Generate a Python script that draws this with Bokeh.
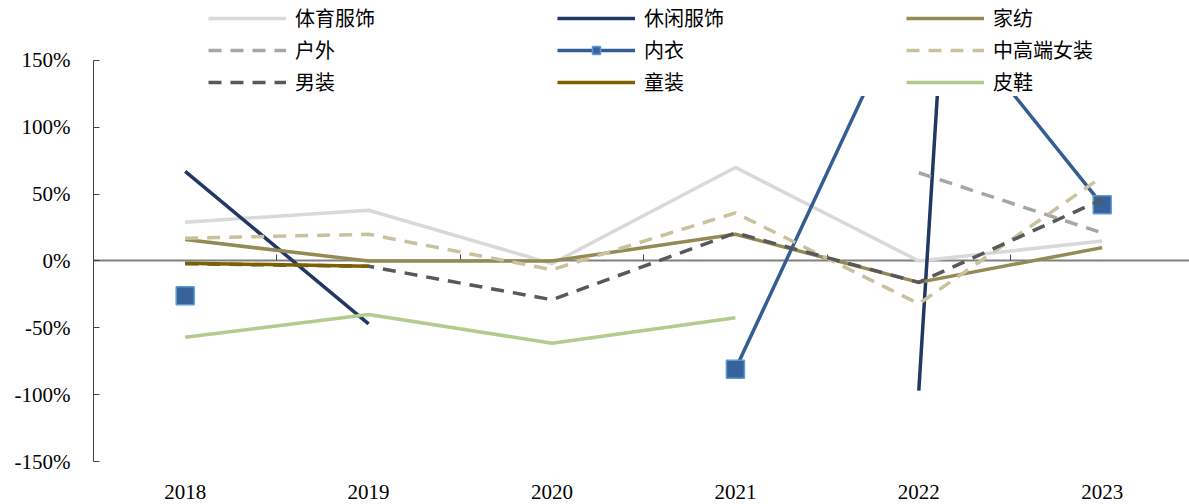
import math
from bokeh.plotting import figure
from bokeh.models import (Range1d, LinearAxis, FixedTicker, NumeralTickFormatter,
                          CustomJSTickFormatter, Legend, LegendItem, ColumnDataSource)
from bokeh.embed import file_html
from bokeh.resources import INLINE

nan = float("nan")

# Year-over-year growth by apparel segment (fractions; NaN = no data)
years = ["2018", "2019", "2020", "2021", "2022", "2023"]
sportswear = [0.29, 0.38, -0.02, 0.70, 0.00, 0.15]
casualwear = [0.67, -0.47, nan, nan, -0.97, 20.9]
home_textile = [0.16, 0.00, 0.00, 0.20, -0.16, 0.10]
outdoor = [nan, nan, nan, nan, 0.66, 0.21]
underwear = [-0.26, nan, nan, -0.81, 2.13, 0.42]
womenswear = [0.17, 0.20, -0.065, 0.36, -0.32, 0.63]
menswear = [-0.02, -0.04, -0.29, 0.21, -0.16, 0.46]
kidswear = [-0.016, -0.04, nan, nan, nan, nan]
leather_shoes = [-0.57, -0.40, -0.615, -0.425, nan, nan]
y_ticks = [-1.5, -1.0, -0.5, 0.0, 0.5, 1.0, 1.5]

series = [
    ("体育服饰", sportswear, "#d9d9d9", "solid", False),
    ("休闲服饰", casualwear, "#1f3864", "solid", False),
    ("家纺", home_textile, "#948a54", "solid", False),
    ("户外", outdoor, "#a6a6a6", "13 9", False),
    ("内衣", underwear, "#345e93", "solid", True),
    ("中高端女装", womenswear, "#c9c29d", "13 9", False),
    ("男装", menswear, "#595959", "13 9", False),
    ("童装", kidswear, "#7f6000", "solid", False),
    ("皮鞋", leather_shoes, "#b3cb8d", "solid", False),
]

x_idx = list(range(len(years)))
px_per_year = 183.4
px_per_unit = 133.67
top_pad = 3          # white strip above the plotting frame
frame_h = 461 - top_pad

p = figure(frame_width=1096, frame_height=frame_h,
           min_border_left=93, min_border_right=0, min_border_top=top_pad,
           min_border_bottom=43,
           x_range=Range1d(-0.5, -0.5 + 1096 / px_per_year),
           y_range=Range1d(-1.5, 1.5 + (60 - top_pad) / px_per_unit),
           x_axis_type=None, y_axis_type=None,
           output_backend="svg", toolbar_location=None)
p.outline_line_color = None
p.background_fill_color = "white"
p.border_fill_color = "white"

# value axis
yaxis = LinearAxis(ticker=FixedTicker(ticks=y_ticks),
                   formatter=NumeralTickFormatter(format="0%"),
                   bounds=(-1.5, 1.5))
yaxis.major_tick_in = 6
yaxis.major_tick_out = 0
yaxis.minor_tick_line_color = None
yaxis.axis_line_color = "#404040"
yaxis.major_tick_line_color = "#404040"
yaxis.major_label_standoff = 23
yaxis.major_label_text_font = "Liberation Serif"
yaxis.major_label_text_font_size = "21px"
yaxis.major_label_text_color = "black"
p.add_layout(yaxis, "left")

# year labels along the bottom
xaxis = LinearAxis(ticker=FixedTicker(ticks=x_idx),
                   major_label_overrides={i: y for i, y in enumerate(years)})
xaxis.axis_line_color = None
xaxis.major_tick_line_color = None
xaxis.minor_tick_line_color = None
xaxis.major_label_standoff = 17
xaxis.major_label_text_font = "Liberation Serif"
xaxis.major_label_text_font_size = "21px"
xaxis.major_label_text_color = "black"
p.add_layout(xaxis, "below")

# zero line with category boundary ticks (no labels)
zaxis = LinearAxis(fixed_location=0,
                   ticker=FixedTicker(ticks=[i + 0.5 for i in x_idx[:-1]]),
                   formatter=CustomJSTickFormatter(code="return ''"))
zaxis.axis_line_color = "#808080"
zaxis.axis_line_width = 2
zaxis.major_tick_in = 6
zaxis.major_tick_out = 0
zaxis.major_tick_line_color = "#404040"
zaxis.minor_tick_line_color = None
zaxis.level = "underlay"
p.add_layout(zaxis, "below")

items = []
for name, vals, color, dash, marker in series:
    src = ColumnDataSource(dict(x=x_idx, y=vals))
    rs = [p.line("x", "y", source=src, line_color=color, line_width=3.5,
                 line_dash=dash, line_join="round")]
    if marker:
        rs.append(p.scatter("x", "y", source=src, marker="square", size=18,
                            fill_color="#37629a", line_color="#5b9bd5", line_width=1.5))
    items.append(LegendItem(label=name, renderers=rs))

legend = Legend(items=items, orientation="horizontal", ncols=3,
                location=(115, 365), glyph_width=78, glyph_height=20,
                label_height=20, label_width=259, spacing=3, padding=12, margin=0,
                border_line_color=None, background_fill_color="white",
                background_fill_alpha=1.0, label_standoff=9,
                label_text_font="Noto Sans CJK SC", label_text_font_size="20px",
                label_text_color="black")
p.add_layout(legend)

open("out.html", "w").write(file_html(p, INLINE))
